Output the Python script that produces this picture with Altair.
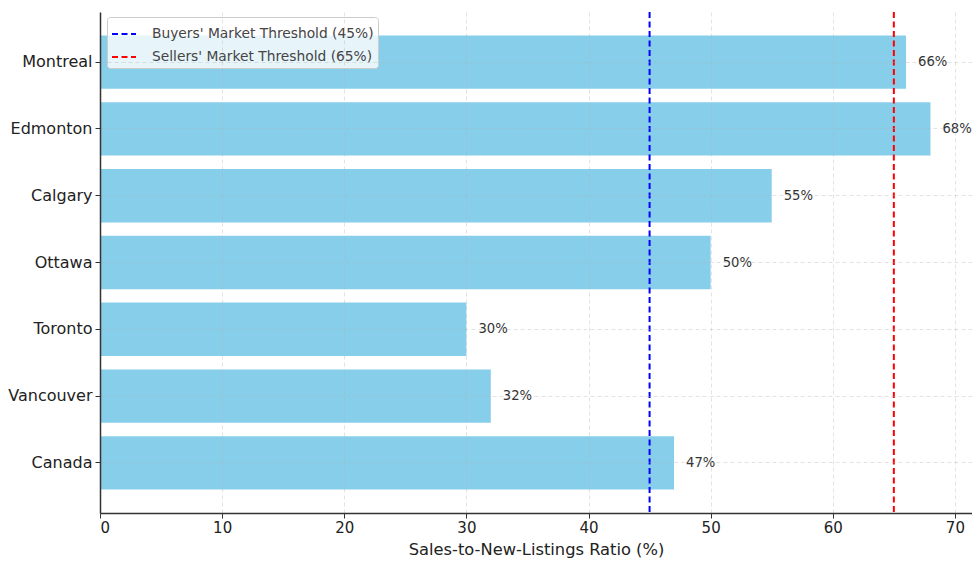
import altair as alt
import pandas as pd

cities = ["Montreal", "Edmonton", "Calgary", "Ottawa", "Toronto", "Vancouver", "Canada"]
ratios = [66, 68, 55, 50, 30, 32, 47]
threshold_names = ["Buyers' Market Threshold (45%)", "Sellers' Market Threshold (65%)"]
threshold_values = [45, 65]
threshold_colors = ["#0000ff", "#ff0000"]
x_ticks = [0, 10, 20, 30, 40, 50, 60, 70]

bars_df = pd.DataFrame({"city": cities, "ratio": ratios,
                        "label": [f"{v}%" for v in ratios]})
thr_df = pd.DataFrame({"name": threshold_names, "value": threshold_values})

FONT = "DejaVu Sans"

x_enc = alt.X("ratio:Q",
              scale=alt.Scale(domain=[0, 71.4], nice=False, zero=True),
              axis=alt.Axis(values=x_ticks, title="Sales-to-New-Listings Ratio (%)",
                            grid=True, gridDash=[4, 3], gridColor="#b0b0b0",
                            gridOpacity=0.45, gridWidth=0.8, zindex=1,
                            tickSize=5, labelPadding=2, titlePadding=6,
                            labelFontSize=15, titleFontSize=16.3))
y_enc = alt.Y("city:N", sort=cities,
              scale=alt.Scale(paddingInner=0.2, paddingOuter=0.35),
              axis=alt.Axis(title=None, grid=True, gridDash=[4, 3], gridColor="#b0b0b0",
                            gridOpacity=0.45, gridWidth=0.8, zindex=1,
                            tickSize=5, labelPadding=3, labelFontSize=16))

bars = alt.Chart(bars_df).mark_bar(color="#87ceeb").encode(x=x_enc, y=y_enc)

text = alt.Chart(bars_df).mark_text(align="left", baseline="middle", dx=12,
                                    fontSize=13.2, font=FONT, color="#333333").encode(
    x="ratio:Q", y=alt.Y("city:N", sort=cities), text="label:N")

rules = alt.Chart(thr_df).mark_rule(strokeDash=[6, 3.5], strokeWidth=2).encode(
    x=alt.X("value:Q"),
    color=alt.Color("name:N",
                    scale=alt.Scale(domain=threshold_names, range=threshold_colors),
                    legend=alt.Legend(title=None, orient="none", legendX=7, legendY=5,
                                      symbolType="stroke", symbolSize=576,
                                      symbolStrokeWidth=2, symbolDash=[6, 3.5],
                                      labelFontSize=13.8, labelFont=FONT,
                                      labelColor="#444444", labelOffset=15,
                                      labelLimit=0, rowPadding=3, padding=4,
                                      fillColor="rgba(255,255,255,0.8)",
                                      strokeColor="#cccccc", cornerRadius=3)))

chart = alt.layer(bars, rules, text).properties(
    width=872, height=501,
    padding={"left": 92, "top": 4, "right": 0, "bottom": 51},
    autosize="none",
).configure_axis(
    labelFont=FONT, titleFont=FONT, labelColor="#222222", titleColor="#222222",
    domainColor="#333333", domainWidth=1.5, tickColor="#333333", tickWidth=1,
    titleFontWeight="normal",
).configure_view(stroke=None)

chart.save("out.html", embed_options={"renderer": "svg", "actions": False})
